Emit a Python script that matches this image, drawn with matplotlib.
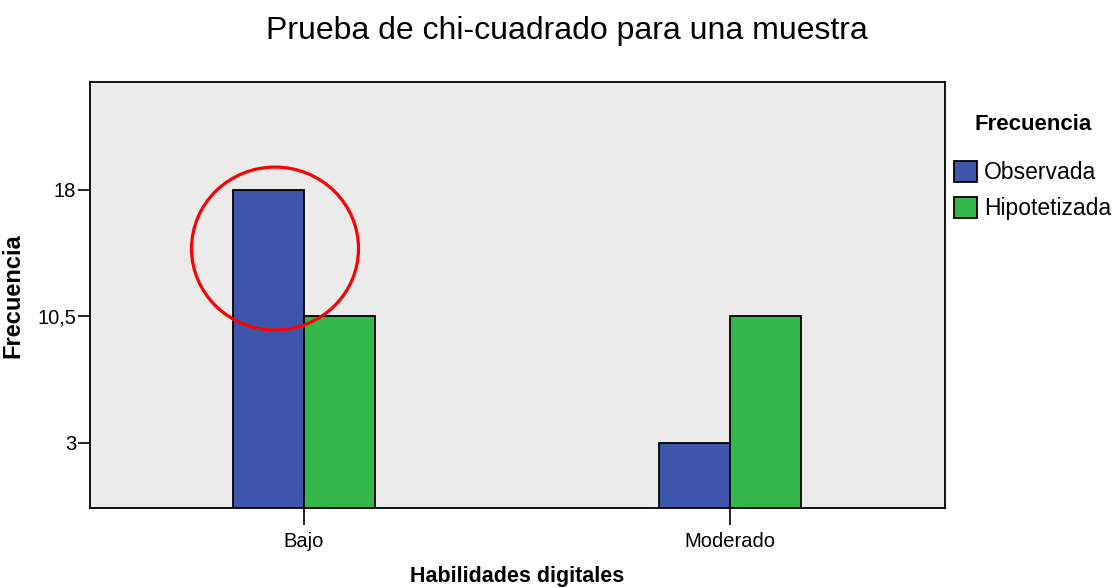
import matplotlib
matplotlib.use("Agg")
import matplotlib.pyplot as plt
from matplotlib.patches import Ellipse, Patch

categories = ["Bajo", "Moderado"]
observada = [18, 3]
hipotetizada = [10.5, 10.5]
series_names = ["Observada", "Hipotetizada"]
y_ticks = [3, 10.5, 18]
y_tick_labels = ["3", "10,5", "18"]

BLUE = "#3D56AB"
GREEN = "#33B74A"
PANEL = "#EBEBEB"

plt.rcParams["font.family"] = ["Liberation Sans", "DejaVu Sans"]

fig = plt.figure(figsize=(11.18, 5.88), dpi=100, facecolor="white")
ax = fig.add_axes([90 / 1118, 80 / 588, 855 / 1118, 426 / 588])
ax.set_facecolor(PANEL)

y_bottom, y_top = -0.86, 24.4
width = 0.167
x = list(range(len(categories)))

ax.bar([i - width / 2 for i in x], [v - y_bottom for v in observada], width,
       bottom=y_bottom, color=BLUE, edgecolor="black", linewidth=1.3, zorder=2)
ax.bar([i + width / 2 for i in x], [v - y_bottom for v in hipotetizada], width,
       bottom=y_bottom, color=GREEN, edgecolor="black", linewidth=1.3, zorder=2)

ax.set_xlim(-0.502, 1.505)
ax.set_ylim(y_bottom, y_top)
ax.set_xticks(x)
ax.set_xticklabels(categories, fontsize=14.5)
ax.set_yticks(y_ticks)
ax.set_yticklabels(y_tick_labels, fontsize=14.5)
ax.tick_params(axis="x", length=12, width=1.2, pad=5, colors="black")
ax.tick_params(axis="y", length=9, width=1.2, pad=1, colors="black")
for sp in ax.spines.values():
    sp.set_linewidth(1.3)
    sp.set_color("black")

ax.set_xlabel("Habilidades digitales", fontsize=15.5, fontweight="bold")
ax.xaxis.set_label_coords(0.5, -(566 - 508) / 426)
ax.set_ylabel("Frecuencia", fontsize=17, fontweight="bold")
ax.yaxis.set_label_coords(-(90 - 24) / 855, (508 - 296) / 426)

fig.text(567 / 1118, 1 - 31 / 588, "Prueba de chi-cuadrado para una muestra",
         fontsize=23, ha="center", va="center")

# red highlight circle around the first bar
ax.add_patch(Ellipse((0.2164, 0.609), 0.1953, 0.3826, transform=ax.transAxes,
                     fill=False, edgecolor="#FF0000", linewidth=2.3, zorder=5))

# legend
fig.text(1033 / 1118, 1 - 125 / 588, "Frecuencia", fontsize=16,
         fontweight="bold", ha="center", va="center")
handles = [Patch(facecolor=BLUE, edgecolor="black", linewidth=1.3),
           Patch(facecolor=GREEN, edgecolor="black", linewidth=1.3)]
leg = fig.legend(handles, series_names, loc="upper left",
                 bbox_to_anchor=(954 / 1118, 1 - 161 / 588), frameon=False,
                 fontsize=16.5, handlelength=1.0, handleheight=1.0,
                 handletextpad=0.3, labelspacing=0.58, borderpad=0,
                 borderaxespad=0)

fig.savefig("out.png", dpi=100)
